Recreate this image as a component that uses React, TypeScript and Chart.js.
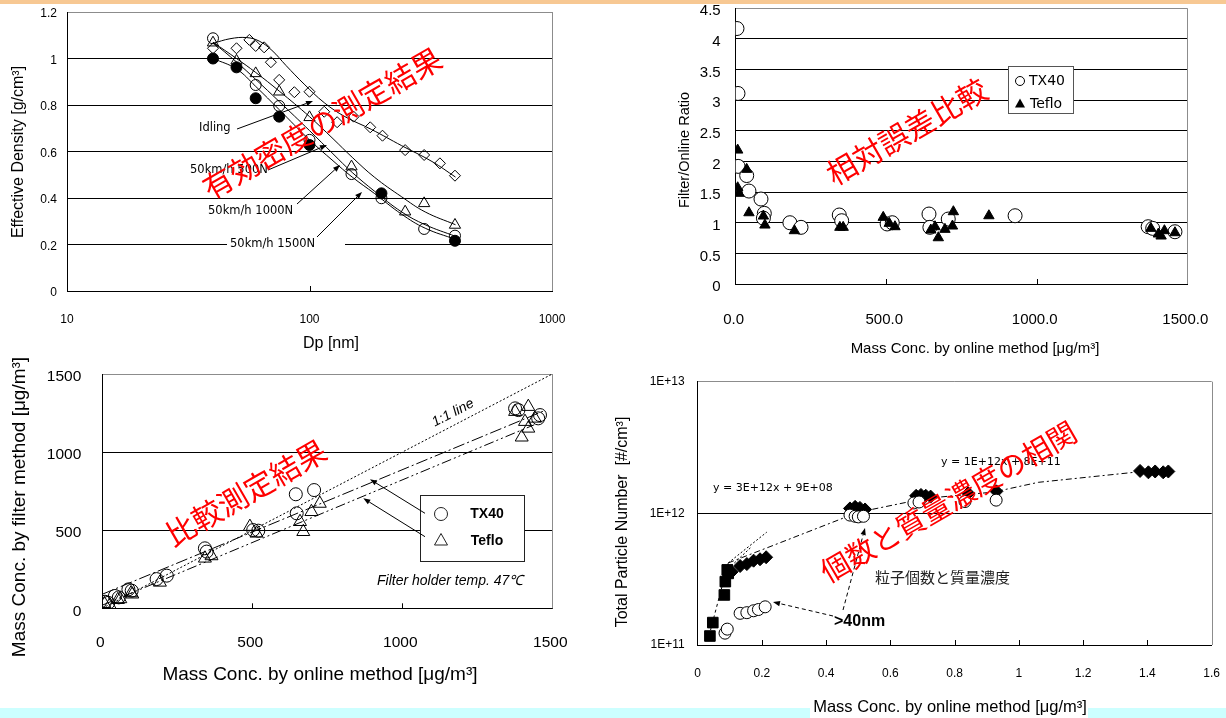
import React, { useEffect, useRef } from 'react';
import { Chart, registerables } from 'chart.js';
Chart.register(...registerables);

const PW = 1226, PH = 718, OFF = 50, AXW = 60, AXH = 60;
const SANS = '"Liberation Sans", Arial, sans-serif';
const CJK = '"Noto Sans CJK JP", sans-serif';
const DV = '"DejaVu Sans", sans-serif';
const GREY = '#8c8c8c';

// ---------- Chart 1: effective density ----------
const dpTicks = [10, 100, 1000];
const dpIdling = [40, 50, 56.5, 60, 65, 69.3, 75, 86.6, 100, 115, 130, 152, 178, 200, 248, 297, 345, 398];
const rhoIdling = [1.044, 1.044, 1.08, 1.054, 1.048, 0.984, 0.908, 0.855, 0.857, 0.771, 0.726, 0.75, 0.704, 0.668, 0.606, 0.585, 0.549, 0.496];
const dp500N = [40, 50, 60, 75, 100, 149, 248, 297, 398];
const rho500N = [1.068, 0.99, 0.936, 0.857, 0.747, 0.535, 0.341, 0.377, 0.284];
const dp1000N = [40, 60, 75, 100, 149, 198, 297, 398];
const rho1000N = [1.087, 0.886, 0.796, 0.65, 0.503, 0.399, 0.267, 0.238];
const dp1500N = [40, 50, 60, 75, 100, 198, 398];
const rho1500N = [1.0, 0.962, 0.829, 0.75, 0.628, 0.42, 0.216];
const fitIdlingD = [40, 47, 55, 62, 70, 80, 95, 115, 140, 180, 240, 320, 400];
const fitIdlingV = [1.065, 1.085, 1.09, 1.075, 1.035, 0.97, 0.89, 0.81, 0.75, 0.695, 0.625, 0.557, 0.49];
const fitCurveD = [40, 50, 60, 75, 100, 125, 150, 185, 240, 300, 400];
const fit500NV = [1.07, 1.0, 0.94, 0.86, 0.75, 0.655, 0.575, 0.49, 0.405, 0.34, 0.285];
const fit1000NV = [1.07, 0.985, 0.91, 0.815, 0.69, 0.59, 0.51, 0.43, 0.34, 0.285, 0.235];
const fit1500NV = [1.0, 0.955, 0.88, 0.78, 0.65, 0.56, 0.49, 0.42, 0.33, 0.27, 0.222];

// ---------- Chart 2: filter / online ratio ----------
const ratioTx40X = [4.3, 7.6, 8, 36.5, 44, 84, 95, 92, 180, 217, 344, 352, 503, 520, 642, 645, 706, 928, 1370, 1385, 1459];
const ratioTx40Y = [4.17, 3.11, 1.92, 1.77, 1.517, 1.387, 1.153, 1.075, 1.0, 0.925, 1.126, 1.033, 0.98, 1.0, 1.142, 0.925, 1.06, 1.114, 0.935, 0.908, 0.853];
const ratioTefloX = [6.6, 36.5, 6.6, 11, 44, 92, 97, 195, 346, 357, 490, 510, 529, 648, 662, 673, 695, 720, 723, 841, 1379, 1404, 1424, 1413, 1459];
const ratioTefloY = [2.186, 1.871, 1.571, 1.48, 1.163, 1.109, 0.962, 0.87, 0.925, 0.925, 1.088, 0.99, 0.935, 0.881, 0.935, 0.755, 0.892, 0.946, 1.18, 1.114, 0.908, 0.816, 0.87, 0.783, 0.837];

// ---------- Chart 3: filter vs online ----------
const cmpTx40X = [9, 20, 42, 55, 87, 98, 181, 215, 342, 348, 503, 520, 645, 706, 648, 1376, 1387, 1459, 1453];
const cmpTx40Y = [42, 35, 79, 70, 121, 113, 187, 209, 384, 363, 501, 497, 730, 757, 608, 1280, 1269, 1237, 1216];
const cmpTefloX = [7, 25, 52, 60, 96, 100, 192, 342, 364, 492, 514, 659, 670, 697, 725, 1376, 1420, 1409, 1420, 1398, 1442];
const cmpTefloY = [29, 20, 55, 60, 98, 90, 166, 320, 335, 523, 480, 554, 490, 618, 671, 1259, 1291, 1195, 1152, 1095, 1216];
const oneToOneX = [0, 1500];
const oneToOneY = [0, 1500];
const fitTx40X = [0, 1470];
const fitTx40Y = [90, 1262];
const fitTefloX = [0, 1440];
const fitTefloY = [20, 1175];

// ---------- Chart 4: particle number vs mass ----------
const numTicks = [1e11, 1e12, 1e13];
const smallMassX = [0.038, 0.047, 0.083, 0.086, 0.092, 0.095];
const smallNumY = [1.17e11, 1.48e11, 2.4e11, 3.03e11, 3.72e11, 3.5e11];
const totalMassX = [0.106, 0.132, 0.153, 0.174, 0.194, 0.213, 0.474, 0.49, 0.505, 0.521, 0.68, 0.695, 0.71, 0.725, 0.842, 0.93, 1.377, 1.403, 1.424, 1.449, 1.465];
const totalNumY = [3.6e11, 3.98e11, 4.12e11, 4.37e11, 4.48e11, 4.64e11, 1.09e12, 1.12e12, 1.1e12, 1.07e12, 1.36e12, 1.38e12, 1.36e12, 1.34e12, 1.42e12, 1.47e12, 2.1e12, 2.05e12, 2.08e12, 2.05e12, 2.08e12];
const over40MassX = [0.085, 0.092, 0.132, 0.153, 0.174, 0.189, 0.21, 0.474, 0.49, 0.5, 0.516, 0.673, 0.689, 0.832, 0.929];
const over40NumY = [1.23e11, 1.32e11, 1.74e11, 1.76e11, 1.82e11, 1.86e11, 1.95e11, 9.7e11, 9.5e11, 9.4e11, 9.5e11, 1.2e12, 1.22e12, 1.23e12, 1.26e12];
const smallLineX = [0.04, 0.095];
const smallLineY = [1.3e11, 4.2e11];
const smallFitAX = [0.095, 0.215];
const smallFitAY = [4.2e11, 7.2e11];
const smallFitBX = [0.105, 0.165];
const smallFitBY = [4.0e11, 5.5e11];
const trendX = [0.095, 0.5, 0.71, 0.92, 1.06, 1.4];
const trendY = [4.2e11, 1.02e12, 1.3e12, 1.45e12, 1.72e12, 2.1e12];

// ---------- helpers ----------
const pts = (xs: number[], ys: number[]) => xs.map((x, i) => ({ x, y: ys[i] }));

function txt(ctx: any, s: string, x: number, y: number, font: string, o: any = {}) {
  ctx.save();
  ctx.translate(x, y);
  if (o.rot) ctx.rotate(o.rot);
  ctx.font = font;
  ctx.fillStyle = o.color || '#000';
  ctx.textAlign = o.align || 'left';
  ctx.textBaseline = o.baseline || 'middle';
  ctx.fillText(s, 0, 0);
  ctx.restore();
}

function arrow(ctx: any, x1: number, y1: number, x2: number, y2: number, dash: number[] = [], head = 7) {
  ctx.save();
  ctx.strokeStyle = '#000';
  ctx.fillStyle = '#000';
  ctx.lineWidth = 1;
  const a = Math.atan2(y2 - y1, x2 - x1);
  const bx = x2 - Math.cos(a) * head, by = y2 - Math.sin(a) * head;
  ctx.setLineDash(dash);
  ctx.beginPath(); ctx.moveTo(x1, y1); ctx.lineTo(bx, by); ctx.stroke();
  ctx.setLineDash([]);
  const w = head * 0.38;
  ctx.beginPath();
  ctx.moveTo(x2, y2);
  ctx.lineTo(bx + Math.sin(a) * w, by - Math.cos(a) * w);
  ctx.lineTo(bx - Math.sin(a) * w, by + Math.cos(a) * w);
  ctx.closePath(); ctx.fill();
  ctx.restore();
}

function vline(ctx: any, x: number, y1: number, y2: number, color: string) {
  ctx.save(); ctx.strokeStyle = color; ctx.lineWidth = 1;
  ctx.beginPath(); ctx.moveTo(Math.round(x) + 0.5, y1); ctx.lineTo(Math.round(x) + 0.5, y2); ctx.stroke();
  ctx.restore();
}

function innerTicks(ctx: any, chart: any, B: number) {
  const sx = chart.scales.x;
  sx.ticks.forEach((t: any, i: number) => {
    if (i === 0 || i === sx.ticks.length - 1) return;
    const px = sx.getPixelForValue(t.value) - OFF;
    vline(ctx, px, B, B - 5, '#000');
  });
}

function red(ctx: any, s: string, x: number, y: number, size = 30) {
  txt(ctx, s, x, y, `${size}px ${CJK}`, { align: 'center', color: '#ff0000', rot: -Math.PI / 6 });
}

function deco(draw: (ctx: any, chart: any) => void) {
  return {
    id: 'deco',
    afterDraw(chart: any) {
      const ctx = chart.ctx;
      ctx.save();
      ctx.translate(OFF, OFF);
      draw(ctx, chart);
      ctx.restore();
    },
  };
}

function base(area: any, x: any, y: any) {
  return {
    responsive: false,
    maintainAspectRatio: false,
    animation: false,
    devicePixelRatio: 1,
    events: [],
    layout: {
      padding: {
        left: OFF + area.L - AXW,
        top: OFF + area.T,
        right: PW + OFF - area.R,
        bottom: PH + OFF - area.B - AXH,
      },
    },
    plugins: { legend: { display: false }, tooltip: { enabled: false } },
    scales: {
      x: { ...x, afterFit: (s: any) => { s.height = AXH; } },
      y: { ...y, afterFit: (s: any) => { s.width = AXW; } },
    },
  };
}

const gridColor = (max: number) => (c: any) => (c.tick && c.tick.value >= max * 0.9999 ? GREY : '#000');

function marker(data: any[], style: string, r: number, fill: string, order = 0) {
  return {
    data, showLine: false, pointStyle: style, pointRadius: r, pointHoverRadius: r,
    pointBorderColor: '#000', pointBackgroundColor: fill, pointBorderWidth: 1, order,
  };
}
function curve(data: any[], dash: number[] = [], tension = 0, order = 5) {
  return {
    data, showLine: true, pointRadius: 0, borderColor: '#000', borderWidth: 1,
    borderDash: dash, tension, fill: false, order,
  };
}

const NONE = 'rgba(0,0,0,0)';
const plain = (v: any) => String(Math.round(Number(v) * 10) / 10);

// ---------- chart configs ----------
function config1() {
  const A = { L: 67, T: 12, R: 552, B: 291 };
  const tf = { size: 12, family: SANS };
  return {
    type: 'scatter',
    data: {
      datasets: [
        curve(pts(fitIdlingD, fitIdlingV), [], 0.4),
        curve(pts(fitCurveD, fit500NV), [], 0.4),
        curve(pts(fitCurveD, fit1000NV), [], 0.4),
        curve(pts(fitCurveD, fit1500NV), [], 0.4),
        marker(pts(dpIdling, rhoIdling), 'rectRot', 5.5, NONE, 1),
        marker(pts(dp500N, rho500N), 'triangle', 6.5, NONE, 1),
        marker(pts(dp1000N, rho1000N), 'circle', 5.5, NONE, 1),
        marker(pts(dp1500N, rho1500N), 'circle', 5.5, '#000', 0),
      ],
    },
    options: base(A,
      {
        type: 'logarithmic', min: 10, max: 1000,
        afterBuildTicks: (ax: any) => { ax.ticks = dpTicks.map((v) => ({ value: v })); },
        ticks: { callback: (v: any) => String(v), font: tf, color: '#000', padding: 13.5, maxRotation: 0, autoSkip: false },
        grid: { display: false },
        border: { color: '#000', width: 1 },
      },
      {
        min: 0, max: 1.2,
        ticks: { stepSize: 0.2, font: tf, color: '#000', padding: 10, labelOffset: 2, callback: plain },
        grid: { color: gridColor(1.2), drawTicks: false, lineWidth: 1 },
        border: { color: '#000', width: 1 },
      }),
    plugins: [deco((ctx, chart) => {
      vline(ctx, A.R, A.T, A.B, GREY);
      innerTicks(ctx, chart, A.B);
      const lf = `11.5px ${DV}`;
      ctx.fillStyle = '#fff';
      ctx.fillRect(227, 238, 118, 13);
      txt(ctx, '50km/h 1500N', 230, 244.5, lf);
      txt(ctx, 'Idling', 199, 128, lf);
      txt(ctx, '50km/h 500N', 190, 170, lf);
      txt(ctx, '50km/h 1000N', 208, 211, lf);
      arrow(ctx, 237, 129, 313, 101);
      arrow(ctx, 268, 170, 327, 145);
      arrow(ctx, 297, 204, 340, 165);
      arrow(ctx, 317, 237, 362, 192);
      txt(ctx, 'Effective Density [g/cm³]', 18.5, 152, `16px ${SANS}`, { align: 'center', rot: -Math.PI / 2 });
      txt(ctx, 'Dp [nm]', 331, 344, `16px ${SANS}`, { align: 'center' });
      red(ctx, '有効密度の測定結果', 322, 123, 30);
    })],
  };
}

function config2() {
  const A = { L: 735.7, T: 8.3, R: 1187.3, B: 284 };
  const tf = { size: 15, family: SANS };
  return {
    type: 'scatter',
    data: {
      datasets: [
        marker(pts(ratioTx40X, ratioTx40Y), 'circle', 7, '#fff', 1),
        marker(pts(ratioTefloX, ratioTefloY), 'triangle', 6, '#000', 0),
      ],
    },
    options: base(A,
      {
        min: 0, max: 1500,
        ticks: { stepSize: 500, font: tf, color: '#000', padding: 18.7, maxRotation: 0, labelOffset: -2, callback: (v: any) => Number(v).toFixed(1) },
        grid: { display: false },
        border: { color: '#000', width: 1 },
      },
      {
        min: 0, max: 4.5,
        ticks: { stepSize: 0.5, font: tf, color: '#000', padding: 15, labelOffset: 3, callback: plain },
        grid: { color: gridColor(4.5), drawTicks: false, lineWidth: 1 },
        border: { color: '#000', width: 1 },
      }),
    plugins: [deco((ctx, chart) => {
      vline(ctx, A.R, A.T, A.B, GREY);
      innerTicks(ctx, chart, A.B);
      ctx.save();
      ctx.fillStyle = '#fff';
      ctx.strokeStyle = '#555';
      ctx.lineWidth = 1;
      ctx.fillRect(1008.5, 66.5, 65, 47);
      ctx.strokeRect(1008.5, 66.5, 65, 47);
      ctx.strokeStyle = '#000';
      ctx.beginPath(); ctx.arc(1020, 81, 4.5, 0, Math.PI * 2); ctx.stroke();
      ctx.fillStyle = '#000';
      ctx.beginPath(); ctx.moveTo(1020, 98.5); ctx.lineTo(1025, 107.5); ctx.lineTo(1015, 107.5); ctx.closePath(); ctx.fill();
      ctx.restore();
      txt(ctx, 'TX40', 1029, 81, `14px ${DV}`);
      txt(ctx, 'Teflo', 1030, 104, `14px ${DV}`);
      txt(ctx, 'Filter/Online Ratio', 685, 150, `14.5px ${SANS}`, { align: 'center', rot: -Math.PI / 2 });
      txt(ctx, 'Mass Conc. by online method [μg/m³]', 975, 349, `15px ${SANS}`, { align: 'center' });
      red(ctx, '相対誤差比較', 906.7, 131.7, 30);
    })],
  };
}

function config3() {
  const A = { L: 102.3, T: 374, R: 552.3, B: 608.3 };
  const tf = { size: 15.5, family: SANS };
  return {
    type: 'scatter',
    data: {
      datasets: [
        curve(pts(oneToOneX, oneToOneY), [2, 2]),
        curve(pts(fitTx40X, fitTx40Y), [12, 3, 2, 3]),
        curve(pts(fitTefloX, fitTefloY), [10, 3, 2, 3, 2, 3]),
        marker(pts(cmpTx40X, cmpTx40Y), 'circle', 6.5, NONE, 1),
        marker(pts(cmpTefloX, cmpTefloY), 'triangle', 7.5, NONE, 0),
      ],
    },
    options: base(A,
      {
        min: 0, max: 1500,
        ticks: { stepSize: 500, font: tf, color: '#000', padding: 17.4, maxRotation: 0, labelOffset: -2, callback: (v: any) => String(v) },
        grid: { display: false },
        border: { color: '#000', width: 1 },
      },
      {
        min: 0, max: 1500,
        ticks: { stepSize: 500, font: tf, color: '#000', padding: 21, labelOffset: 3, callback: (v: any) => String(v) },
        grid: { color: gridColor(1500), drawTicks: false, lineWidth: 1 },
        border: { color: '#000', width: 1 },
      }),
    plugins: [deco((ctx, chart) => {
      vline(ctx, A.R, A.T, A.B, GREY);
      innerTicks(ctx, chart, A.B);
      txt(ctx, '1:1 line', 453, 413, `italic 14px ${SANS}`, { align: 'center', rot: -0.48 });
      ctx.save();
      ctx.fillStyle = '#fff';
      ctx.strokeStyle = '#222';
      ctx.lineWidth = 1;
      ctx.fillRect(420.5, 495.5, 104, 66);
      ctx.strokeRect(420.5, 495.5, 104, 66);
      ctx.beginPath(); ctx.arc(441, 514, 6.5, 0, Math.PI * 2); ctx.stroke();
      ctx.beginPath(); ctx.moveTo(441, 533.5); ctx.lineTo(447.5, 545); ctx.lineTo(434.5, 545); ctx.closePath(); ctx.stroke();
      ctx.restore();
      txt(ctx, 'TX40', 487, 514, `bold 14px ${SANS}`, { align: 'center' });
      txt(ctx, 'Teflo', 487, 541, `bold 14px ${SANS}`, { align: 'center' });
      arrow(ctx, 425, 513.3, 370, 479.3);
      arrow(ctx, 425, 536.7, 363.3, 498.3);
      txt(ctx, 'Filter holder temp. 47℃', 377, 581, `italic 14px ${SANS}`);
      txt(ctx, 'Mass Conc. by filter method [μg/m³]', 20, 507, `19px ${SANS}`, { align: 'center', rot: -Math.PI / 2 });
      txt(ctx, 'Mass Conc. by online method [μg/m³]', 320, 675, `19px ${SANS}`, { align: 'center' });
      red(ctx, '比較測定結果', 245.8, 492.5, 30);
    })],
  };
}

function config4() {
  const A = { L: 697.7, T: 381.7, R: 1211.7, B: 645 };
  const tf = { size: 12, family: SANS };
  return {
    type: 'scatter',
    data: {
      datasets: [
        curve(pts(smallLineX, smallLineY), [3, 3]),
        curve(pts(smallFitAX, smallFitAY), [2, 2]),
        curve(pts(smallFitBX, smallFitBY), [2, 2]),
        curve(pts(trendX, trendY), [6, 3, 2, 3]),
        marker(pts(smallMassX, smallNumY), 'rect', 7.5, '#000', 1),
        marker(pts(totalMassX, totalNumY), 'rectRot', 6.5, '#000', 1),
        marker(pts(over40MassX, over40NumY), 'circle', 6, '#fff', 0),
      ],
    },
    options: base(A,
      {
        min: 0, max: 1.6,
        ticks: { stepSize: 0.2, font: tf, color: '#000', padding: 13.8, maxRotation: 0, callback: plain },
        grid: { display: false },
        border: { color: '#000', width: 1 },
      },
      {
        type: 'logarithmic', min: 1e11, max: 1e13,
        afterBuildTicks: (ax: any) => { ax.ticks = numTicks.map((v) => ({ value: v })); },
        ticks: { font: tf, color: '#000', padding: 13, autoSkip: false, callback: (v: any) => '1E+' + Math.round(Math.log10(v)) },
        grid: { color: gridColor(1e13), drawTicks: false, lineWidth: 1 },
        border: { color: '#000', width: 1 },
      }),
    plugins: [deco((ctx, chart) => {
      vline(ctx, A.R, A.T, A.B, GREY);
      innerTicks(ctx, chart, A.B);
      ctx.fillStyle = '#fff';
      ctx.fillRect(810, 698, 278, 20);
      txt(ctx, 'y = 3E+12x + 9E+08', 713, 488.5, `11px ${DV}`);
      txt(ctx, 'y = 1E+12x + 8E+11', 941, 462, `11px ${DV}`);
      txt(ctx, '粒子個数と質量濃度', 875, 577.5, `15px ${CJK}`, { color: '#222' });
      txt(ctx, '>40nm', 834, 622, `bold 16px ${SANS}`);
      arrow(ctx, 833, 616, 773, 602, [4, 3], 7);
      arrow(ctx, 843, 610, 865, 528, [4, 3], 7);
      txt(ctx, 'Total Particle Number  [#/cm³]', 623, 522, `16px ${SANS}`, { align: 'center', rot: -Math.PI / 2 });
      txt(ctx, 'Mass Conc. by online method [μg/m³]', 950, 707, `16.5px ${SANS}`, { align: 'center' });
      red(ctx, '個数と質量濃度の相関', 948.3, 501.7, 29);
    })],
  };
}

function ChartLayer({ make }: { make: () => any }) {
  const ref = useRef<HTMLCanvasElement>(null);
  useEffect(() => {
    const chart = new Chart(ref.current as HTMLCanvasElement, make());
    return () => chart.destroy();
  }, []);
  return (
    <canvas
      ref={ref}
      width={PW + 2 * OFF}
      height={PH + 2 * OFF}
      style={{ position: 'absolute', left: -OFF, top: -OFF, width: PW + 2 * OFF, height: PH + 2 * OFF }}
    />
  );
}

export default function App() {
  return (
    <div style={{ position: 'absolute', left: 0, top: 0, width: PW, height: PH, overflow: 'hidden', background: '#fff' }}>
      <div style={{ position: 'absolute', left: 0, top: 0, width: PW, height: 3.5, background: '#f7c893' }} />
      <div style={{ position: 'absolute', left: 0, top: 708, width: PW, height: 10, background: '#ccffff' }} />
      <ChartLayer make={config1} />
      <ChartLayer make={config2} />
      <ChartLayer make={config3} />
      <ChartLayer make={config4} />
    </div>
  );
}
